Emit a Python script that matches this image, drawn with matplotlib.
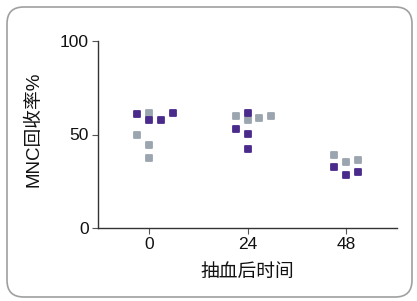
import matplotlib
matplotlib.use("Agg")
import matplotlib.pyplot as plt
from matplotlib.patches import FancyBboxPatch
from matplotlib.markers import MarkerStyle

plt.rcParams['font.family'] = ['Liberation Sans', 'Noto Sans CJK SC', 'DejaVu Sans']

# ore dopo il prelievo
hours = [0, 24, 48]
tick_labels = ["0", "24", "48"]

# serie viola: (ora, colonna, valore %)
purple_hour = [0, 0, 0, 0, 24, 24, 24, 24, 48, 48, 48]
purple_col = [-1, 0, 1, 2, 0, -1, 0, 0, -1, 0, 1]
purple_val = [61.0, 58.0, 58.0, 61.5, 61.5, 52.9, 50.3, 42.2, 32.6, 28.3, 29.9]

# serie grigia
gray_hour = [0, 0, 0, 0, 24, 24, 24, 24, 48, 48, 48]
gray_col = [0, -1, 0, 0, -1, 0, 1, 2, -1, 0, 1]
gray_val = [61.5, 49.7, 44.4, 37.4, 59.9, 57.8, 58.8, 59.9, 39.0, 35.3, 36.4]

purple = "#4a2a8a"
gray = "#9ba5af"
step = 2.9  # distanza orizzontale tra colonne (in ore)

fig = plt.figure(figsize=(4.17, 3.01), dpi=100)
ax = fig.add_axes([98 / 417, 1 - 228 / 301, 299 / 417, 187 / 301])

# cornice arrotondata
frame = FancyBboxPatch((7 / 417, 4 / 301), 405 / 417, 290 / 301,
                       boxstyle="round,pad=0,rounding_size=0.04",
                       transform=fig.transFigure, fill=False,
                       edgecolor="#a0a0a0", linewidth=1.2, zorder=-1,
                       mutation_aspect=417 / 301)
fig.patches.append(frame)

sq = MarkerStyle("s", joinstyle="round")
gx = [h + c * step for h, c in zip(gray_hour, gray_col)]
px = [h + c * step for h, c in zip(purple_hour, purple_col)]
ax.plot(gx, gray_val, linestyle="none", marker=sq, color=gray, markersize=5.0,
        markeredgewidth=1.3, markeredgecolor=gray, zorder=2)
ax.plot(px, purple_val, linestyle="none", marker=sq, color=purple, markersize=5.0,
        markeredgewidth=1.3, markeredgecolor=purple, zorder=3)

ax.set_xlim(-12.4, 60.4)
ax.set_ylim(0, 100)
ax.set_xticks(hours)
ax.set_xticklabels(tick_labels)
ax.set_yticks([0, 50, 100])

for s in ["top", "right"]:
    ax.spines[s].set_visible(False)
for s in ["left", "bottom"]:
    ax.spines[s].set_color("#333333")
    ax.spines[s].set_linewidth(1.0)

ax.tick_params(axis="both", labelsize=12.5, length=4.5, width=0.8, color="#555555",
               labelcolor="#111111", pad=2)
ax.set_ylabel("MNC回收率%", fontsize=13.5, color="#111111")
ax.set_xlabel("抽血后时间", fontsize=13.5, color="#111111")
ax.yaxis.set_label_coords(-0.184, 0.53)
ax.xaxis.set_label_coords(0.5, -0.19)

fig.savefig("out.png", dpi=100)
